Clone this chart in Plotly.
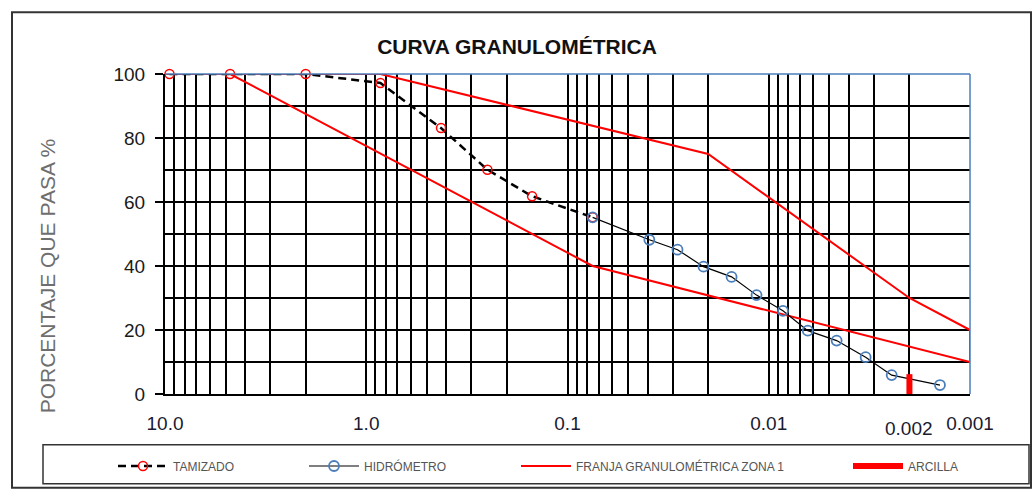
import math
import plotly.graph_objects as go

# ---------------- data ----------------
tamizado_d = [9.5, 4.75, 2.0, 0.85, 0.425, 0.25, 0.15, 0.075]
tamizado_p = [100, 100, 100, 97.2, 83.1, 70.1, 61.8, 55.2]

hidro_d = [0.075, 0.0392, 0.0284, 0.0211, 0.0153, 0.0115, 0.0085, 0.0064, 0.0046, 0.0033, 0.00245, 0.00141]
hidro_p = [55.2, 48.2, 45.1, 39.8, 36.6, 30.9, 26.0, 19.8, 16.7, 11.5, 5.9, 2.8]

franja_sup_d = [10.0, 0.85, 0.02, 0.002, 0.001, 0.001]
franja_sup_p = [100, 100, 75, 30, 20, 10]
franja_inf_d = [10.0, 4.75, 0.075, 0.001]
franja_inf_p = [100, 100, 40, 10]

arcilla_d = [0.002, 0.002]
arcilla_p = [0, 6.2]

x_tickvals = [10, 1, 0.1, 0.01, 0.001]
x_ticktext = ["10.0", "1.0", "0.1", "0.01", "0.001"]
y_tickvals = [0, 20, 40, 60, 80, 100]
extra_label_val = 0.002
extra_label_text = "0.002"

title_text = "CURVA GRANULOMÉTRICA"
ytitle_text = "PORCENTAJE QUE PASA %"

# ---------------- layout geometry (pixels) ----------------
W, H = 1032, 491
PL, PR, PT, PB = 165, 970, 74, 395
pw, ph = PR - PL, PB - PT


def fx(px):
    return (px - PL) / pw


def fy(py):
    return (PB - py) / ph


FONT = "Liberation Sans, Arial, sans-serif"
RED = "#ff0000"
BLUE = "#4a7ebb"

minor_x = [k * 10.0 ** e for e in range(-3, 1) for k in range(2, 10)]

fig = go.Figure()

fig.add_trace(go.Scatter(
    x=franja_sup_d, y=franja_sup_p, mode="lines", name="FRANJA GRANULOMÉTRICA ZONA 1",
    line=dict(color=RED, width=2), legend="legend3"))
fig.add_trace(go.Scatter(
    x=franja_inf_d, y=franja_inf_p, mode="lines", showlegend=False,
    line=dict(color=RED, width=2), legend="legend3"))
fig.add_trace(go.Scatter(
    x=tamizado_d, y=tamizado_p, mode="lines+markers", name="TAMIZADO",
    line=dict(color="black", width=2.5, dash="8px,5px"),
    marker=dict(symbol="circle-open", size=9, color=RED, line=dict(width=1.5, color=RED)),
    cliponaxis=False, legend="legend"))
fig.add_trace(go.Scatter(
    x=hidro_d, y=hidro_p, mode="lines+markers", name="HIDRÓMETRO",
    line=dict(color="black", width=1.2),
    marker=dict(symbol="circle-open", size=10, color=BLUE, line=dict(width=1.8, color=BLUE)),
    cliponaxis=False, legend="legend2"))
fig.add_trace(go.Scatter(
    x=arcilla_d, y=arcilla_p, mode="lines", name="ARCILLA",
    line=dict(color=RED, width=6), legend="legend4"))

leg_common = dict(orientation="h", yanchor="middle", y=fy(466), xanchor="left",
                  font=dict(family=FONT, size=12, color="#555555"),
                  bgcolor="rgba(0,0,0,0)", itemwidth=50, borderwidth=0)

fig.update_layout(
    width=W, height=H,
    margin=dict(l=PL, r=W - PR, t=PT, b=H - PB),
    paper_bgcolor="white", plot_bgcolor="white",
    title=dict(text="<b>" + title_text + "</b>", x=517 / W, xanchor="center",
               y=1 - 47 / H, yanchor="middle",
               font=dict(family=FONT, size=21, color="#111111")),
    legend=dict(x=fx(113), **leg_common),
    legend2=dict(x=fx(304), **leg_common),
    legend3=dict(x=fx(516), **leg_common),
    legend4=dict(x=fx(848), **leg_common),
    xaxis=dict(type="log", range=[math.log10(10), math.log10(0.001)],
               tickvals=x_tickvals, ticktext=x_ticktext,
               showgrid=True, gridcolor="black", gridwidth=2.2,
               minor=dict(tickvals=minor_x, showgrid=True, gridcolor="black", gridwidth=2.2, ticks=""),
               showline=True, linecolor="black", linewidth=2,
               ticks="", ticklabelstandoff=11,
               tickfont=dict(family=FONT, size=19, color="#1a1a30"),
               zeroline=False),
    yaxis=dict(range=[0, 100], tickvals=y_tickvals,
               showgrid=True, gridcolor="black", gridwidth=2.2,
               minor=dict(dtick=10, showgrid=True, gridcolor="black", gridwidth=2.2, ticks=""),
               showline=True, linecolor="black", linewidth=2,
               ticks="outside", ticklen=8, tickwidth=2, tickcolor="black",
               ticklabelstandoff=6,
               tickfont=dict(family=FONT, size=19, color="#1a1a1a"),
               zeroline=False),
    showlegend=True,
)

# extra tick label 0.002
fig.add_annotation(x=math.log10(extra_label_val), xref="x", y=fy(430), yref="paper",
                   text=extra_label_text, showarrow=False, yanchor="middle", xanchor="center",
                   font=dict(family=FONT, size=19, color="#1a1a30"))
# y axis title
fig.add_annotation(x=fx(47), xref="paper", y=fy(276), yref="paper", text=ytitle_text,
                   textangle=-90, showarrow=False, xanchor="center", yanchor="middle",
                   font=dict(family=FONT, size=21, color="#6e6e6e"))

# plot-area border (top & right in blue)
fig.add_shape(type="line", xref="paper", yref="paper", x0=0, x1=1, y0=1, y1=1,
              line=dict(color=BLUE, width=1.5), layer="above")
fig.add_shape(type="line", xref="paper", yref="paper", x0=1, x1=1, y0=0, y1=1,
              line=dict(color=BLUE, width=1.5), layer="above")
# outer chart border
fig.add_shape(type="rect", xref="paper", yref="paper",
              x0=fx(12), x1=fx(1031), y0=fy(489), y1=fy(12),
              line=dict(color="#333333", width=2), layer="below")
# legend box
fig.add_shape(type="rect", xref="paper", yref="paper",
              x0=fx(43), x1=fx(1029), y0=fy(485), y1=fy(446),
              line=dict(color="#333333", width=1.5), layer="below")

fig.write_html("out.html", config={"displayModeBar": False},
               post_script="document.body.style.margin='0';")
